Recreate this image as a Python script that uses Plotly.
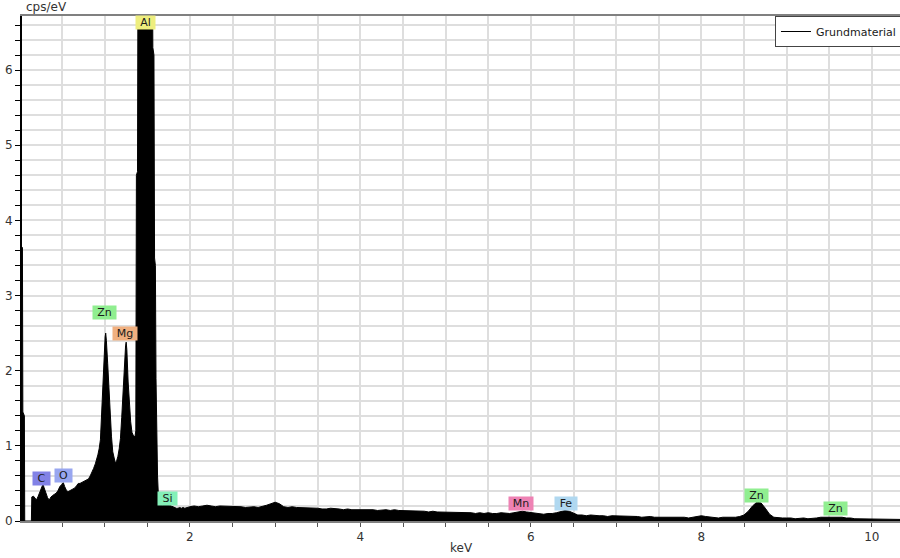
import numpy as np
import plotly.graph_objects as go

# ---- spectrum, low-energy region (keV, cps/eV) ----
energy_low = [0.00, 0.02, 0.035, 0.04, 0.058, 0.062, 0.14, 0.145, 0.165, 0.185,
              0.20, 0.22, 0.24, 0.26, 0.276, 0.29, 0.31, 0.33, 0.35, 0.37,
              0.39, 0.41, 0.43, 0.45, 0.475, 0.50, 0.515, 0.53, 0.55, 0.57,
              0.59, 0.61, 0.63, 0.65, 0.67, 0.69, 0.71, 0.73, 0.75, 0.77,
              0.79, 0.81, 0.83, 0.85, 0.87, 0.89, 0.905, 0.92, 0.935, 0.95,
              0.965, 0.98, 0.995, 1.005, 1.012, 1.02, 1.035, 1.05, 1.065, 1.08,
              1.095, 1.11, 1.125, 1.14, 1.155, 1.17, 1.185, 1.20, 1.215, 1.23,
              1.245, 1.252, 1.26, 1.275, 1.29, 1.305, 1.32, 1.335, 1.355, 1.365,
              1.372, 1.385, 1.392, 1.42, 1.45, 1.48, 1.51, 1.54, 1.56, 1.565,
              1.578, 1.585, 1.595, 1.602, 1.61, 1.62, 1.63, 1.645, 1.66, 1.68,
              1.70, 1.72, 1.74, 1.76, 1.78, 1.80, 1.82, 1.84, 1.86, 1.88,
              1.90, 1.92, 1.94, 1.96, 1.98]
cps_low = [0.0, 3.64, 3.64, 1.45, 1.40, 0.0, 0.0, 0.32, 0.33, 0.30,
           0.28, 0.33, 0.39, 0.45, 0.49, 0.44, 0.38, 0.31, 0.28, 0.32,
           0.34, 0.35, 0.37, 0.40, 0.46, 0.49, 0.51, 0.46, 0.41, 0.39,
           0.40, 0.41, 0.42, 0.44, 0.47, 0.50, 0.50, 0.51, 0.52, 0.53,
           0.54, 0.56, 0.60, 0.64, 0.70, 0.76, 0.81, 0.88, 0.96, 1.08,
           1.45, 1.90, 2.25, 2.45, 2.50, 2.40, 2.10, 1.75, 1.40, 1.12,
           0.92, 0.82, 0.77, 0.80, 0.86, 0.96, 1.10, 1.38, 1.75, 2.08,
           2.33, 2.38, 2.28, 1.85, 1.55, 1.32, 1.18, 1.14, 1.12, 1.20,
           4.60, 4.65, 8.00, 10.0, 11.5, 12.0, 11.0, 9.0, 7.5, 6.3,
           6.2, 3.5, 3.4, 1.9, 1.1, 0.6, 0.34, 0.24, 0.22, 0.21,
           0.22, 0.23, 0.22, 0.21, 0.19, 0.18, 0.17, 0.17, 0.17, 0.18,
           0.17, 0.18, 0.17, 0.18, 0.18]

# ---- spectrum, 2.00 .. 10.40 keV in 0.05 keV channels ----
energy_tail = np.round(np.arange(2.00, 10.401, 0.05), 2)
cps_tail = [0.19, 0.20, 0.19, 0.20, 0.21, 0.20, 0.19, 0.20, 0.20, 0.19,
            0.19, 0.20, 0.19, 0.18, 0.19, 0.19, 0.18, 0.19, 0.21, 0.23,
            0.25, 0.23, 0.19, 0.18, 0.19, 0.18, 0.18, 0.17, 0.18, 0.17,
            0.17, 0.16, 0.16, 0.17, 0.16, 0.16, 0.15, 0.16, 0.15, 0.15,
            0.15, 0.16, 0.15, 0.15, 0.14, 0.15, 0.15, 0.14, 0.15, 0.14,
            0.14, 0.14, 0.13, 0.14, 0.13, 0.13, 0.12, 0.13, 0.12, 0.12,
            0.12, 0.12, 0.11, 0.12, 0.11, 0.11, 0.11, 0.10, 0.11, 0.10,
            0.11, 0.10, 0.10, 0.11, 0.10, 0.10, 0.11, 0.12, 0.13, 0.12,
            0.11, 0.10, 0.10, 0.09, 0.10, 0.10, 0.11, 0.13, 0.14, 0.13,
            0.10, 0.08, 0.08, 0.07, 0.08, 0.07, 0.07, 0.07, 0.06, 0.07,
            0.07, 0.06, 0.07, 0.06, 0.06, 0.06, 0.05, 0.06, 0.06, 0.05,
            0.05, 0.05, 0.06, 0.05, 0.05, 0.05, 0.05, 0.04, 0.05, 0.06,
            0.07, 0.06, 0.05, 0.05, 0.04, 0.05, 0.05, 0.04, 0.05, 0.06,
            0.08, 0.13, 0.20, 0.25, 0.24, 0.17, 0.09, 0.05, 0.04, 0.04,
            0.04, 0.04, 0.03, 0.04, 0.04, 0.03, 0.04, 0.04, 0.05, 0.05,
            0.06, 0.06, 0.05, 0.05, 0.04, 0.04, 0.03, 0.03, 0.03, 0.03,
            0.03, 0.02, 0.02, 0.03, 0.02, 0.02, 0.02, 0.02, 0.02]

# ---- element labels ----
peak_labels = ["C", "O", "Zn", "Mg", "Al", "Si", "Mn", "Fe", "Zn", "Zn"]
peak_energy = [0.264, 0.516, 1.003, 1.238, 1.478, 1.736, 5.88, 6.41, 8.645, 9.57]
peak_label_y = [0.57, 0.60, 2.77, 2.49, 6.64, 0.30, 0.23, 0.23, 0.34, 0.166]
peak_colors = ["#8282e6", "#98a6f0", "#90ee90", "#f0b080", "#eeee7e",
               "#84f0b8", "#ee82b4", "#b0d8f0", "#90ee90", "#90ee90"]

series_name = "Grundmaterial"
x_tick_vals = [0.5 * i for i in range(1, 21)]
x_tick_text = [str(int(v)) if v % 2 == 0 else "" for v in x_tick_vals]
y_tick_vals = [round(0.2 * i, 1) for i in range(0, 34)]
y_tick_text = [str(int(round(v))) if abs(v - round(v)) < 1e-9 else "" for v in y_tick_vals]

energy = list(energy_low) + list(energy_tail)
cps = list(cps_low) + list(cps_tail)

FONT = "DejaVu Sans"
box_w = {"C": 17, "O": 17, "Zn": 23, "Mg": 24, "Al": 19, "Si": 19, "Mn": 24, "Fe": 22}

fig = go.Figure()
fig.add_trace(go.Scatter(
    x=energy, y=cps, mode="lines", fill="tozeroy",
    fillcolor="black", line=dict(color="black", width=1),
    showlegend=False, hoverinfo="x+y", name=series_name,
))
fig.add_trace(go.Scatter(
    x=[None], y=[None], mode="lines", line=dict(color="black", width=1),
    name=series_name, showlegend=True,
))

for lab, xe, ye, col in zip(peak_labels, peak_energy, peak_label_y, peak_colors):
    fig.add_annotation(x=xe, y=ye, xref="x", yref="y", text=lab, showarrow=False,
                       bgcolor=col, borderpad=0, width=box_w[lab], height=13,
                       font=dict(family=FONT, size=11, color="#1a1a1a"))

fig.add_annotation(x=0, y=1, xref="paper", yref="paper", xanchor="left", yanchor="bottom",
                   text="cps/eV", showarrow=False, xshift=2,
                   font=dict(family=FONT, size=12, color="#333333"))
fig.add_annotation(x=0.501, y=0, xref="paper", yref="paper", xanchor="center", yanchor="middle",
                   text="keV", showarrow=False, yshift=-27,
                   font=dict(family=FONT, size=12, color="#333333"))

fig.update_layout(
    width=900, height=558,
    margin=dict(l=22, r=0, t=16, b=37, autoexpand=False),
    plot_bgcolor="white", paper_bgcolor="white",
    font=dict(family=FONT, size=12, color="#333333"),
    legend=dict(x=0.8576, y=1.0, xanchor="left", yanchor="top",
                bgcolor="white", bordercolor="#444444", borderwidth=1,
                font=dict(family=FONT, size=11, color="#1a1a1a")),
    xaxis=dict(range=[0.03, 10.33], tickmode="array", tickvals=x_tick_vals, ticktext=x_tick_text,
               showgrid=True, gridcolor="#dedede", gridwidth=1.5, zeroline=False,
               showline=True, linecolor="#808080", linewidth=2, mirror=True,
               ticks="outside", ticklen=4, tickcolor="#555555", tickwidth=1,
               tickfont=dict(family=FONT, size=12, color="#333333")),
    yaxis=dict(range=[0, 6.72], tickmode="array", tickvals=y_tick_vals, ticktext=y_tick_text,
               showgrid=True, gridcolor="#dedede", gridwidth=1.5, zeroline=False,
               showline=True, linecolor="black", linewidth=2,
               ticks="outside", ticklen=5, tickcolor="black", tickwidth=1,
               tickfont=dict(family=FONT, size=12, color="#333333")),
)

fig.write_html("out.html", config={"displayModeBar": False},
               post_script="document.body.style.margin='0';document.body.style.overflow='hidden';")
